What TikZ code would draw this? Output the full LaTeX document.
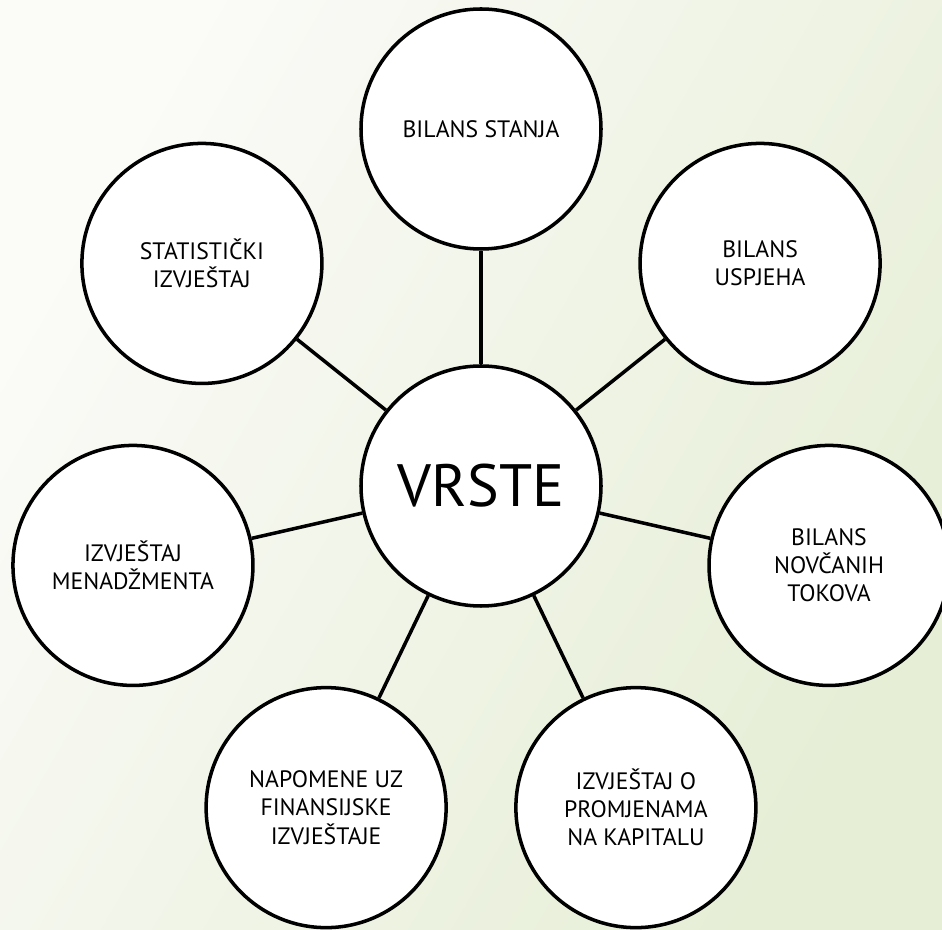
\documentclass[tikz,border=0pt]{standalone}
\usepackage{fontspec}
\setmainfont{PT Sans}
\definecolor{bgwhite}{RGB}{251,251,248}
\definecolor{bggreen}{RGB}{230,238,214}
\tikzset{
  vrsta/.style={circle, draw=black, line width=2pt, fill=white, minimum size=4.8cm, inner sep=0pt, align=center, font=\fontsize{13.5}{16}\selectfont},
  spoj/.style={draw=black, line width=2pt}
}
\begin{document}
\begin{tikzpicture}

% pozadina
\useasboundingbox (0,0) rectangle (18.84,18.58);
\shade[left color=bgwhite, right color=bggreen, shading angle=60] (0,0) rectangle (18.84,18.58);

\node[vrsta, font=\fontsize{34}{38}\selectfont] (vrste) at (9.62,8.86) {VRSTE};

\node[vrsta] (stanje) at ([shift = (90:7.14)] 9.62,8.86) {BILANS STANJA};
\node[vrsta] (uspjeh) at ([shift = (38.571:7.14)] 9.62,8.86) {BILANS\\USPJEHA};
\node[vrsta] (tokovi) at ([shift = (-12.857:7.14)] 9.62,8.86) {BILANS\\NOVČANIH\\TOKOVA};
\node[vrsta] (kapital) at ([shift = (-64.286:7.14)] 9.62,8.86) {IZVJEŠTAJ O\\PROMJENAMA\\NA KAPITALU};
\node[vrsta] (napomene) at ([shift = (-115.714:7.14)] 9.62,8.86) {NAPOMENE UZ\\FINANSIJSKE\\IZVJEŠTAJE};
\node[vrsta] (menadzment) at ([shift = (-167.143:7.14)] 9.62,8.86) {IZVJEŠTAJ\\MENADŽMENTA};
\node[vrsta] (statistika) at ([shift = (141.429:7.14)] 9.62,8.86) {STATISTIČKI\\IZVJEŠTAJ};

\draw[spoj] (vrste) -- (stanje);
\draw[spoj] (vrste) -- (uspjeh);
\draw[spoj] (vrste) -- (tokovi);
\draw[spoj] (vrste) -- (kapital);
\draw[spoj] (vrste) -- (napomene);
\draw[spoj] (vrste) -- (menadzment);
\draw[spoj] (vrste) -- (statistika);
\end{tikzpicture}
\end{document}
